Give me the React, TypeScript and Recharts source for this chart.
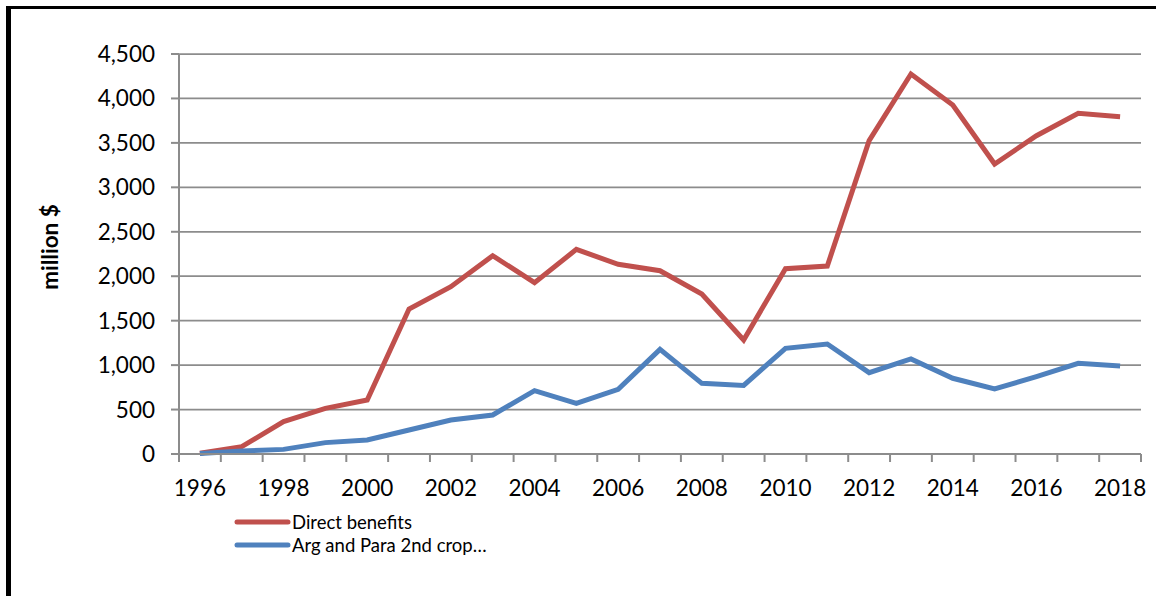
import React from 'react';
import {
  LineChart,
  Line,
  XAxis,
  YAxis,
  CartesianGrid,
  Legend,
} from 'recharts';

const years = [
  '1996', '1997', '1998', '1999', '2000', '2001', '2002', '2003', '2004', '2005', '2006', '2007',
  '2008', '2009', '2010', '2011', '2012', '2013', '2014', '2015', '2016', '2017', '2018',
];

const directBenefits = [
  8, 83, 364, 514, 607, 1631, 1882, 2231, 1927, 2302, 2134, 2062,
  1800, 1283, 2085, 2115, 3525, 4275, 3926, 3262, 3581, 3832, 3795,
];

const argParaSecondCrop = [
  5, 34, 52, 128, 157, 270, 382, 439, 712, 570, 727, 1177,
  795, 772, 1189, 1237, 915, 1069, 852, 731, 870, 1020, 990,
];

const yTicks = [0, 500, 1000, 1500, 2000, 2500, 3000, 3500, 4000, 4500];

const seriesNames = ['Direct benefits', 'Arg and Para 2nd crop…'];
const seriesColors = ['#C0504D', '#4F81BD'];

const data = years.map((year, i) => ({
  year,
  direct: directBenefits[i],
  argPara: argParaSecondCrop[i],
}));

const FONT = 'Lato, "Open Sans", sans-serif';
const AXIS_GREY = '#8c8c8c';
const CHART_W = 1145;
const CHART_H = 587;
const MARGIN = { top: 45, right: 15, left: 0, bottom: 42 };
const Y_AXIS_W = 168;
const BAND = (CHART_W - MARGIN.right - Y_AXIS_W) / years.length;

// Excel style: tick marks sit between categories, labels on every other year
function XTick(props: any) {
  const { x, y, payload } = props;
  const isLast = payload.value === years[years.length - 1];
  const showLabel = Number(payload.value) % 2 === 0;
  return (
    <g>
      <line x1={x - BAND / 2} y1={y} x2={x - BAND / 2} y2={y + 8} stroke={AXIS_GREY} strokeWidth={2} />
      {isLast && (
        <line x1={x + BAND / 2} y1={y} x2={x + BAND / 2} y2={y + 8} stroke={AXIS_GREY} strokeWidth={2} />
      )}
      {showLabel && (
        <text x={x} y={y + 42} textAnchor="middle" fontSize={22.5} fill="#000" fontFamily={FONT}>
          {payload.value}
        </text>
      )}
    </g>
  );
}

function YLabel(props: any) {
  const { viewBox } = props;
  const cx = 38;
  const cy = viewBox.y + viewBox.height / 2 - 7;
  return (
    <text
      x={cx}
      y={cy}
      transform={`rotate(-90, ${cx}, ${cy})`}
      textAnchor="middle"
      dominantBaseline="central"
      fontSize={22.5}
      fontWeight="bold"
      fontFamily={FONT}
      fill="#000"
    >
      million $
    </text>
  );
}

function LegendBox() {
  return (
    <div
      style={{
        height: 50,
        boxSizing: 'border-box',
        paddingTop: 6,
        fontFamily: FONT,
        fontSize: 18.5,
        color: '#000',
        overflow: 'visible',
      }}
    >
      {seriesNames.map((name, i) => (
        <div key={name} style={{ display: 'flex', alignItems: 'center', height: 23 }}>
          <svg width={58} height={10} style={{ display: 'block' }}>
            <line x1={3} y1={5} x2={54} y2={5} stroke={seriesColors[i]} strokeWidth={5} strokeLinecap="round" />
          </svg>
          <span style={{ whiteSpace: 'nowrap' }}>{name}</span>
        </div>
      ))}
    </div>
  );
}

export default function App() {
  return (
    <div
      style={{
        position: 'absolute',
        left: 6,
        top: 6,
        width: CHART_W,
        height: CHART_H,
        borderLeft: '5px solid #000',
        borderTop: '3px solid #000',
        background: '#fff',
        fontFamily: FONT,
      }}
    >
      <LineChart width={CHART_W} height={CHART_H} data={data} margin={MARGIN}>
        <CartesianGrid vertical={false} stroke={AXIS_GREY} strokeWidth={1.75} />
        <XAxis
          dataKey="year"
          interval={0}
          height={50}
          padding={{ left: BAND / 2, right: BAND / 2 }}
          tickSize={0}
          tickMargin={0}
          tickLine={false}
          axisLine={{ stroke: AXIS_GREY, strokeWidth: 2 }}
          tick={<XTick />}
        />
        <YAxis
          width={Y_AXIS_W}
          domain={[0, 4500]}
          ticks={yTicks}
          interval={0}
          tickSize={8}
          tickMargin={16}
          tickLine={{ stroke: AXIS_GREY, strokeWidth: 2 }}
          axisLine={{ stroke: AXIS_GREY, strokeWidth: 2 }}
          tick={{ fill: '#000', fontSize: 22.5, fontFamily: FONT }}
          tickFormatter={(v: number) => v.toLocaleString('en-US')}
          label={<YLabel />}
        />
        <Legend
          layout="horizontal"
          verticalAlign="bottom"
          align="left"
          wrapperStyle={{ left: 223, top: 495, width: 400, height: 50 }}
          content={() => <LegendBox />}
        />
        <Line
          type="linear"
          dataKey="direct"
          name={seriesNames[0]}
          stroke={seriesColors[0]}
          strokeWidth={5}
          dot={false}
          activeDot={false}
          isAnimationActive={false}
        />
        <Line
          type="linear"
          dataKey="argPara"
          name={seriesNames[1]}
          stroke={seriesColors[1]}
          strokeWidth={5}
          dot={false}
          activeDot={false}
          isAnimationActive={false}
        />
      </LineChart>
    </div>
  );
}
